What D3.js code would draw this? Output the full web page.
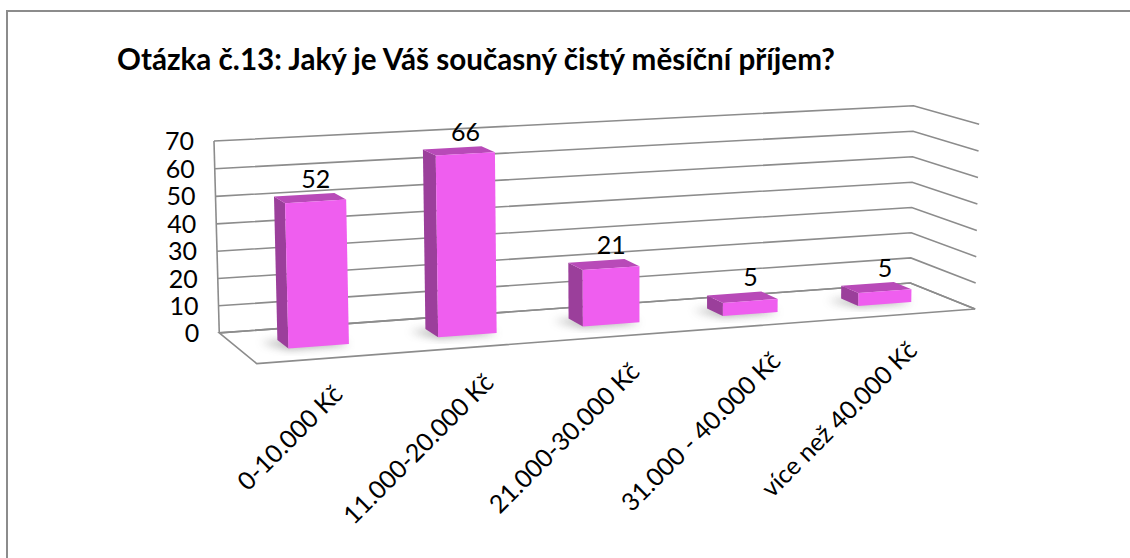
<!DOCTYPE html>
<html>
<head>
<meta charset="utf-8">
<script src="https://cdn.jsdelivr.net/npm/d3@7"></script>
<style>
  body { margin: 0; background: #fff; }
  text { font-family: Lato, "Open Sans", sans-serif; }
</style>
</head>
<body>
<div id="chart"></div>
<script>
// Data
const categories = ["0-10.000 Kč", "11.000-20.000 Kč", "21.000-30.000 Kč", "31.000 - 40.000 Kč", "více než 40.000 Kč"];
const values = [52, 66, 21, 5, 5];
const yTicks = [0, 10, 20, 30, 40, 50, 60, 70];
const title = "Otázka č.13: Jaký je Váš současný čistý měsíční příjem?";

const W = 1130, H = 558;

const svg = d3.select("#chart").append("svg")
  .attr("width", W)
  .attr("height", H);

// Scales in "world" units: u across, v up, w depth (0 = back wall, 1 = front)
const x = d3.scaleBand().domain(categories).range([0, 1]).paddingInner(0.6).paddingOuter(0.3);
const y = d3.scaleLinear().domain([0, 70]).range([0, 1]);
const zBar = [0.35, 0.63]; // back and front of the columns

// Camera: fit a pinhole projection to the corners of the plot box
const calib = [
  [0, 0, 0, 219.3, 333.3],
  [0, 1, 0, 214.0, 141.0],
  [1, 0, 0, 910.5, 282.7],
  [1, 1, 0, 913.3, 105.7],
  [0, 0, 1, 256.7, 363.3],
  [1, 0, 1, 975.0, 309.3],
  [1, 1, 1, 979.3, 124.3]
];
const cx0 = 600, cy0 = 230, cs = 400;

function fitCamera(pts) {
  const A = [], b = [];
  pts.forEach(([X, Y, Z, px, py]) => {
    const xn = (px - cx0) / cs, yn = (py - cy0) / cs;
    A.push([X, Y, Z, 1, 0, 0, 0, 0, -xn * X, -xn * Y, -xn * Z]); b.push(xn);
    A.push([0, 0, 0, 0, X, Y, Z, 1, -yn * X, -yn * Y, -yn * Z]); b.push(yn);
  });
  const n = 11;
  const M = d3.range(n).map(i => d3.range(n + 1).map(j => {
    let s = 0;
    for (let k = 0; k < A.length; k++) s += A[k][i] * (j < n ? A[k][j] : b[k]);
    return s;
  }));
  for (let c = 0; c < n; c++) {
    let piv = c;
    for (let r = c + 1; r < n; r++) if (Math.abs(M[r][c]) > Math.abs(M[piv][c])) piv = r;
    [M[c], M[piv]] = [M[piv], M[c]];
    for (let r = 0; r < n; r++) {
      if (r === c) continue;
      const f = M[r][c] / M[c][c];
      for (let k = c; k <= n; k++) M[r][k] -= f * M[c][k];
    }
  }
  return M.map((row, i) => row[n] / M[i][i]);
}
const P = fitCamera(calib);

function project(u, v, w) {
  const d = P[8] * u + P[9] * v + P[10] * w + 1;
  const xn = (P[0] * u + P[1] * v + P[2] * w + P[3]) / d;
  const yn = (P[4] * u + P[5] * v + P[6] * w + P[7]) / d;
  return [xn * cs + cx0, yn * cs + cy0];
}
const poly = pts => pts.map(p => project(...p).join(",")).join(" ");

// Outer frame
svg.append("rect")
  .attr("x", 7).attr("y", 11)
  .attr("width", W).attr("height", H)
  .attr("fill", "none")
  .attr("stroke", "#8c8c8c")
  .attr("stroke-width", 2);

// Title
const titleText = svg.append("text")
  .attr("x", 117)
  .attr("y", 70)
  .style("font-weight", "bold")
  .style("font-size", "24px")
  .attr("fill", "#000")
  .text(title);
const tw = titleText.node().getComputedTextLength();
titleText.style("font-size", (24 * 718 / tw) + "px");

const gridColor = "#8c8c8c";
const grid = svg.append("g")
  .attr("fill", "none")
  .attr("stroke", gridColor)
  .attr("stroke-width", 1.6);

// Floor
grid.append("polygon")
  .attr("points", poly([[0, 0, 0], [1, 0, 0], [1, 0, 1], [0, 0, 1]]))
  .attr("fill", "#fff");

// Back wall and side wall gridlines
yTicks.forEach(t => {
  grid.append("polyline")
    .attr("points", poly([[0, y(t), 0], [1, y(t), 0], [1, y(t), 1]]));
});

// Left edge of back wall
grid.append("line")
  .attr("x1", project(0, 0, 0)[0]).attr("y1", project(0, 0, 0)[1])
  .attr("x2", project(0, 1, 0)[0]).attr("y2", project(0, 1, 0)[1]);

const fs = "25px";

// Y tick labels
svg.append("g").selectAll("text")
  .data(yTicks)
  .join("text")
    .attr("x", d => project(0, y(d), 0)[0] - 20)
    .attr("y", d => project(0, y(d), 0)[1] + 9)
    .attr("text-anchor", "end")
    .style("font-size", fs)
    .text(d => d);

// Shadows on the floor
const defs = svg.append("defs");
defs.append("filter").attr("id", "blur")
  .attr("x", "-50%").attr("y", "-50%").attr("width", "200%").attr("height", "200%")
  .append("feGaussianBlur").attr("stdDeviation", 4);

const bars = categories.map((c, i) => ({ c, v: values[i], u0: x(c), u1: x(c) + x.bandwidth() }));
const sh = x.bandwidth() * 0.3;

svg.append("g").selectAll("polygon")
  .data(bars)
  .join("polygon")
    .attr("points", d => poly([[d.u0 - sh, 0, zBar[0] + 0.03], [d.u1 - sh * 0.5, 0, zBar[0] + 0.03], [d.u1, 0, zBar[1] + 0.02], [d.u0, 0, zBar[1] + 0.02]]))
    .attr("fill", "#666")
    .attr("opacity", 0.55)
    .attr("filter", "url(#blur)");

// Columns: right to left so nearer ones paint on top
const colG = svg.append("g");
bars.slice().reverse().forEach(d => {
  const v = y(d.v), [z0, z1] = zBar;
  const g = colG.append("g");
  g.append("polygon")
    .attr("points", poly([[d.u0, 0, z0], [d.u0, 0, z1], [d.u0, v, z1], [d.u0, v, z0]]))
    .attr("fill", "#9b3f9b");
  g.append("polygon")
    .attr("points", poly([[d.u0, v, z0], [d.u1, v, z0], [d.u1, v, z1], [d.u0, v, z1]]))
    .attr("fill", "#b84ab8");
  g.append("polygon")
    .attr("points", poly([[d.u0, 0, z1], [d.u1, 0, z1], [d.u1, v, z1], [d.u0, v, z1]]))
    .attr("fill", "#ef5eef");
});

// Value labels
svg.append("g").selectAll("text")
  .data(bars)
  .join("text")
    .attr("x", d => project((d.u0 + d.u1) / 2, y(d.v), zBar[1])[0])
    .attr("y", d => project((d.u0 + d.u1) / 2, y(d.v), zBar[0])[1] - 7)
    .attr("text-anchor", "middle")
    .style("font-size", fs)
    .text(d => d.v);

// Category labels
svg.append("g").selectAll("text")
  .data(bars)
  .join("text")
    .attr("transform", d => {
      const p = project((d.u0 + d.u1) / 2, 0, 1);
      return `translate(${p[0] + 10},${p[1] + 38}) rotate(-45)`;
    })
    .attr("text-anchor", "end")
    .style("font-size", fs)
    .text(d => d.c);
</script>
</body>
</html>
